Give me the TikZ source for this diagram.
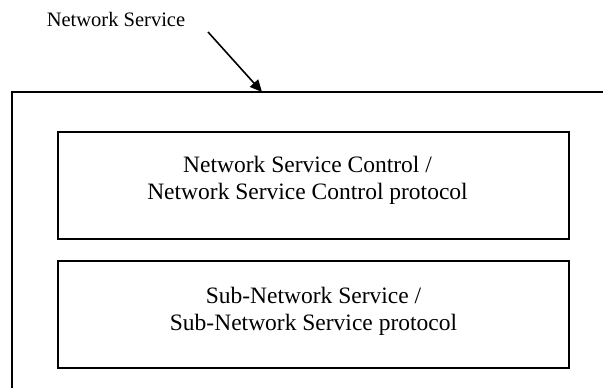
\documentclass[tikz,border=0pt]{standalone}
\usepackage{fontspec}
\setmainfont{Liberation Serif}
\usetikzlibrary{arrows.meta}
\begin{document}
\begin{tikzpicture}[x=1pt,y=-1pt,
  line/.style={line width=1.8pt,black},
  box/.style={draw,line width=2pt,minimum width=511pt,minimum height=107pt,inner sep=0pt,anchor=north west},
  txt/.style={font=\fontsize{23.5}{27}\selectfont,align=center,inner sep=0pt},
  lbl/.style={font=\fontsize{20.5}{27}\selectfont,inner sep=0pt}]
\useasboundingbox (0,0) rectangle (603,388);
\node[lbl,anchor=base] (ns) at (116,27) {Network Service};
\draw[line] (603,92) -- (12,92) -- (12,388);
\coordinate (tip) at (262,92);
\coordinate (start) at (208,32);
\draw[line width=1.6pt,-{Triangle[length=12pt,width=11pt]}] (start) -- (tip);
\node[box] (b1) at (57,131) {};
\node[box] (b2) at (57,260) {};
\node[txt] (t1) at ([xshift=-6pt,yshift=5.5pt]b1.center) {Network Service Control /\\Network Service Control protocol};
\node[txt] (t2) at ([xshift=0pt,yshift=3.5pt]b2.center) {Sub-Network Service /\\Sub-Network Service protocol};
\end{tikzpicture}
\end{document}
